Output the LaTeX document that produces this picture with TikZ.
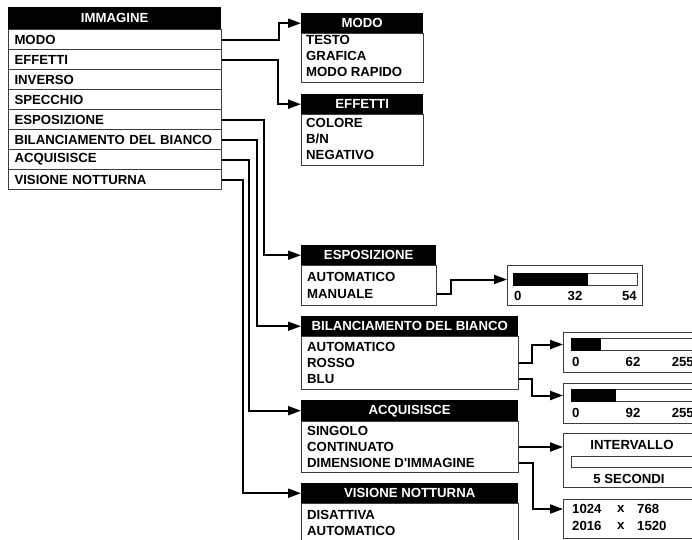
\documentclass[tikz,border=0pt]{standalone}
\usepackage{fontspec}
\setmainfont{Liberation Sans}
\usepackage{xcolor}
\usetikzlibrary{arrows.meta,positioning}
\definecolor{framegray}{RGB}{60,60,60}
\tikzstyle{menufont}=[font=\fontsize{13.2}{14}\selectfont\bfseries]
\tikzset{head/.style={menufont,fill=black,text=white,anchor=north west,minimum height=20pt,inner sep=0pt}}
\tikzset{frame/.style={draw=framegray,line width=1pt,anchor=north west,inner sep=0pt}}
\tikzset{row/.style={frame,menufont,minimum height=20pt,text width=201pt,inner xsep=6pt,align=left}}
\tikzset{item/.style={menufont,anchor=west,inner sep=0pt}}
\tikzset{bar/.style={draw=framegray,line width=1pt,anchor=north west,inner sep=0pt,minimum height=12pt}}
\tikzset{link/.style={line width=2pt,-{Triangle[length=13pt,width=9pt]}}}

\begin{document}
\begin{tikzpicture}[x=1pt,y=-1pt]
  \useasboundingbox (0,0) rectangle (692,539);
  \clip (0,0) rectangle (692,539);

  %% Main menu
  \draw (8,7) node[head,minimum width=213pt,minimum height=22pt] (immagine) {IMMAGINE};
  \draw (8,29) node[row] (modo) {MODO};
  \draw (8,49) node[row] (effetti) {EFFETTI};
  \draw (8,69) node[row] (inverso) {INVERSO};
  \draw (8,89) node[row] (specchio) {SPECCHIO};
  \draw (8,109) node[row] (esposizione) {ESPOSIZIONE};
  \draw (8,129) node[row] (bilanciamento) {BILANCIAMENTO DEL BIANCO};
  \draw (8,149) node[row] (acquisisce) {ACQUISISCE};
  \draw (8,169) node[row] (visione) {VISIONE NOTTURNA};

  %% Sub menus
  \draw (301,13) node[head,minimum width=122pt] (hmodo) {MODO};
  \draw (301,33) node[frame,minimum width=122pt,minimum height=49pt] (bmodo) {};
  \draw (306,40) node[item] (testo) {TESTO};
  \draw (306,56) node[item] (grafica) {GRAFICA};
  \draw (306,72) node[item] (rapido) {MODO RAPIDO};

  \draw (301,94) node[head,minimum width=122pt] (heffetti) {EFFETTI};
  \draw (301,114) node[frame,minimum width=122pt,minimum height=51pt] (beffetti) {};
  \draw (306,123) node[item] (colore) {COLORE};
  \draw (306,139) node[item] (bn) {B/N};
  \draw (306,155) node[item] (negativo) {NEGATIVO};

  \draw (301,245) node[head,minimum width=135pt] (hesposizione) {ESPOSIZIONE};
  \draw (301,265) node[frame,minimum width=135pt,minimum height=40pt] (besposizione) {};
  \draw (307,277) node[item] (autoesp) {AUTOMATICO};
  \draw (307,294) node[item] (manuale) {MANUALE};

  \draw (301,316) node[head,minimum width=217pt] (hbilanciamento) {BILANCIAMENTO DEL BIANCO};
  \draw (301,336) node[frame,minimum width=217pt,minimum height=53pt] (bbilanciamento) {};
  \draw (307,347) node[item] (autobil) {AUTOMATICO};
  \draw (307,363) node[item] (rosso) {ROSSO};
  \draw (307,379) node[item] (blu) {BLU};

  \draw (301,400) node[head,minimum width=217pt,minimum height=21pt] (hacquisisce) {ACQUISISCE};
  \draw (301,421) node[frame,minimum width=217pt,minimum height=51pt] (bacquisisce) {};
  \draw (307,431) node[item] (singolo) {SINGOLO};
  \draw (307,447) node[item] (continuato) {CONTINUATO};
  \draw (307,463) node[item] (dimensione) {DIMENSIONE D\textquotesingle IMMAGINE};

  \draw (301,483) node[head,minimum width=217pt] (hvisione) {VISIONE NOTTURNA};
  \draw (301,503) node[frame,minimum width=217pt,minimum height=45pt] (bvisione) {};
  \draw (307,515) node[item] (disattiva) {DISATTIVA};
  \draw (307,531) node[item] (autovis) {AUTOMATICO};

  %% Sliders
  \draw (507,265) node[frame,minimum width=135pt,minimum height=40pt] (slideresp) {};
  \draw (513,273) node[bar,minimum width=124pt] (baresp) {};
  \fill (baresp.north west) rectangle ([xshift=75pt]baresp.south west);
  \draw (514,296) node[item] (esp0) {0};
  \draw (575,296) node[menufont,inner sep=0pt] (esp32) {32};
  \draw (637,296) node[menufont,inner sep=0pt,anchor=east] (esp54) {54};

  \draw (563,332) node[frame,minimum width=137pt,minimum height=40pt] (sliderrosso) {};
  \draw (571,338) node[bar,minimum width=123pt] (barrosso) {};
  \fill (barrosso.north west) rectangle ([xshift=30pt]barrosso.south west);
  \draw (572,362) node[item] (rosso0) {0};
  \draw (633,362) node[menufont,inner sep=0pt] (rosso62) {62};
  \draw (694,362) node[menufont,inner sep=0pt,anchor=east] (rosso255) {255};

  \draw (563,383) node[frame,minimum width=137pt,minimum height=40pt] (sliderblu) {};
  \draw (571,389) node[bar,minimum width=123pt] (barblu) {};
  \fill (barblu.north west) rectangle ([xshift=45pt]barblu.south west);
  \draw (572,413) node[item] (blu0) {0};
  \draw (633,413) node[menufont,inner sep=0pt] (blu92) {92};
  \draw (694,413) node[menufont,inner sep=0pt,anchor=east] (blu255) {255};

  %% Intervallo and size
  \draw (563,433) node[frame,minimum width=137pt,minimum height=54pt] (intervallo) {};
  \draw (632,445) node[menufont,inner sep=0pt] (tintervallo) {INTERVALLO};
  \draw (571,456) node[bar,minimum width=123pt,minimum height=11pt] (barint) {};
  \draw (629,479) node[menufont,inner sep=0pt] (secondi) {5 SECONDI};

  \draw (563,499) node[frame,minimum width=137pt,minimum height=39pt] (formato) {};
  \draw (572,509) node[item] (w1024) {1024};
  \draw (617,509) node[item] (x1) {x};
  \draw (637,509) node[item] (h768) {768};
  \draw (572,526) node[item] (w2016) {2016};
  \draw (617,526) node[item] (x2) {x};
  \draw (637,526) node[item] (h1520) {1520};

  %% Connectors
  \draw[link] (modo.east) -- ++(57,0) |- (hmodo.west);
  \draw[link] (effetti.east) -- ++(56,0) |- (heffetti.west);
  \draw[link] (esposizione.east) -- ++(42,0) |- (hesposizione.west);
  \draw[link] (bilanciamento.east) -- ++(35,0) |- (hbilanciamento.west);
  \draw[link] (acquisisce.east) -- ++(27,0) |- (hacquisisce.west);
  \draw[link] (visione.east) -- ++(21,0) |- (hvisione.west);

  \draw[link] (manuale -| besposizione.east) -- ++(14,0) |- (baresp -| slideresp.west);
  \draw[link] (rosso -| bbilanciamento.east) -- ++(13,0) |- (barrosso -| sliderrosso.west);
  \draw[link] (blu -| bbilanciamento.east) -- ++(13,0) |- (barblu -| sliderblu.west);
  \draw[link] (continuato -| bacquisisce.east) -- (continuato -| intervallo.west);
  \draw[link] (dimensione -| bacquisisce.east) -- ++(14,0) |- (w1024 -| formato.west);
\end{tikzpicture}
\end{document}
